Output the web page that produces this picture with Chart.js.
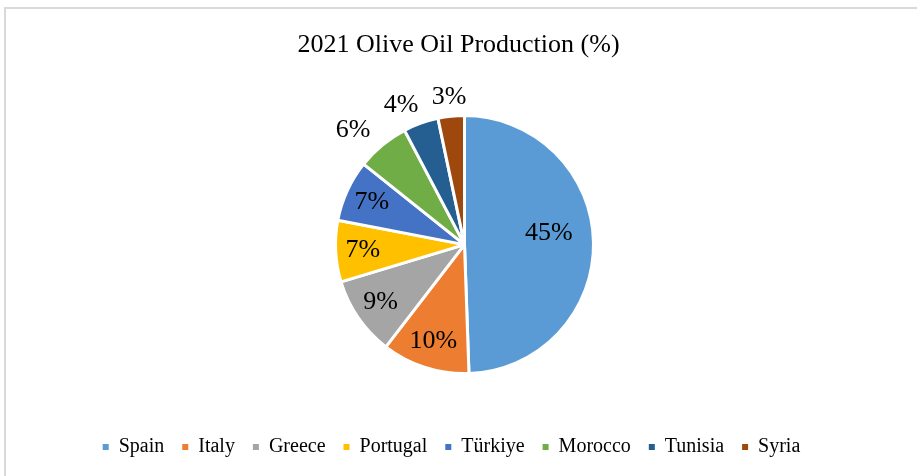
<!DOCTYPE html>
<html>
<head>
<meta charset="utf-8">
<title>2021 Olive Oil Production (%)</title>
<script src="https://cdn.jsdelivr.net/npm/chart.js@4/dist/chart.umd.min.js"></script>
<style>
  html, body { margin: 0; padding: 0; background: #ffffff; overflow: hidden; }
  #frame {
    position: absolute; left: 4px; top: 7px; width: 940px; height: 500px;
    border: 2px solid #d9d9d9; box-sizing: border-box; pointer-events: none;
  }
  #chart { position: absolute; left: 0; top: 0; }
</style>
</head>
<body>
<div id="frame"></div>
<canvas id="chart" width="917" height="476"></canvas>
<script>
// Share of world olive oil production in 2021, per producer (%)
const countries = ['Spain', 'Italy', 'Greece', 'Portugal', 'Türkiye', 'Morocco', 'Tunisia', 'Syria'];
const shares = [45, 10, 9, 7, 7, 6, 4, 3];
const sliceColours = ['#5B9BD5', '#ED7D31', '#A5A5A5', '#FFC000', '#4472C4', '#70AD47', '#255E91', '#9E480E'];

const SERIF = "'Liberation Serif', 'Times New Roman', serif";

// Percentage labels: inside for the wide slices, outside for the narrow ones.
// Outside labels are spread sideways so neighbours keep a clear gap.
const sliceLabels = {
  id: 'sliceLabels',
  afterDatasetsDraw(chart) {
    const { ctx } = chart;
    const meta = chart.getDatasetMeta(0);
    const values = chart.data.datasets[0].data;
    const outside = [];
    ctx.save();
    ctx.font = '26px ' + SERIF;
    ctx.fillStyle = '#000000';
    ctx.textAlign = 'center';
    ctx.textBaseline = 'middle';
    meta.data.forEach((arc, i) => {
      const p = arc.getProps(['x', 'y', 'startAngle', 'endAngle', 'outerRadius'], true);
      const frac = (p.endAngle - p.startAngle) / (2 * Math.PI);
      let ang = (p.startAngle + p.endAngle) / 2;
      const text = values[i] + '%';
      if (frac < 0.075) {
        const d = p.outerRadius + 19;
        outside.push({ text, x: p.x + Math.cos(ang) * d, y: p.y + Math.sin(ang) * d });
        return;
      }
      let dist = p.outerRadius * 0.79;
      if (frac > 0.25) {
        dist = p.outerRadius * 0.66;
        ang -= 7 * Math.PI / 180;
      }
      ctx.fillText(text, p.x + Math.cos(ang) * dist, p.y + Math.sin(ang) * dist);
    });
    // walk back from the last slice, keeping each label clear of the previous one
    const minGap = 48;
    let prevX = null;
    for (let k = outside.length - 1; k >= 0; k--) {
      const lab = outside[k];
      if (prevX !== null) lab.x = Math.min(lab.x, prevX - minGap);
      prevX = lab.x;
      ctx.fillText(lab.text, lab.x, lab.y);
    }
    ctx.restore();
  }
};

// Title and legend sit a little left of the pie's centre line
const boxNudge = {
  id: 'boxNudge',
  afterLayout(chart) {
    if (chart.titleBlock) { chart.titleBlock.left -= 6; chart.titleBlock.right -= 6; }
    if (chart.legend) { chart.legend.left -= 13; chart.legend.right -= 13; }
  }
};

new Chart(document.getElementById('chart'), {
  type: 'pie',
  data: {
    labels: countries,
    datasets: [{
      data: shares,
      backgroundColor: sliceColours,
      borderColor: '#ffffff',
      borderWidth: 3,
      radius: 129
    }]
  },
  options: {
    responsive: false,
    animation: false,
    events: [],
    rotation: 0,
    layout: { padding: { top: 0, left: 12, right: 0, bottom: 9 } },
    plugins: {
      title: {
        display: true,
        text: '2021 Olive Oil Production (%)',
        color: '#000000',
        font: { family: SERIF, size: 26, weight: 'normal' },
        padding: { top: 30, bottom: 9 }
      },
      legend: {
        display: true,
        position: 'bottom',
        labels: {
          color: '#000000',
          font: { family: SERIF, size: 20 },
          boxWidth: 6,
          boxHeight: 6,
          padding: 18,
          generateLabels(chart) {
            const items = Chart.overrides.pie.plugins.legend.labels.generateLabels(chart);
            return items.map(it => Object.assign(it, { lineWidth: 0, strokeStyle: 'rgba(0,0,0,0)' }));
          }
        }
      },
      tooltip: { enabled: false }
    }
  },
  plugins: [sliceLabels, boxNudge]
});
</script>
</body>
</html>
